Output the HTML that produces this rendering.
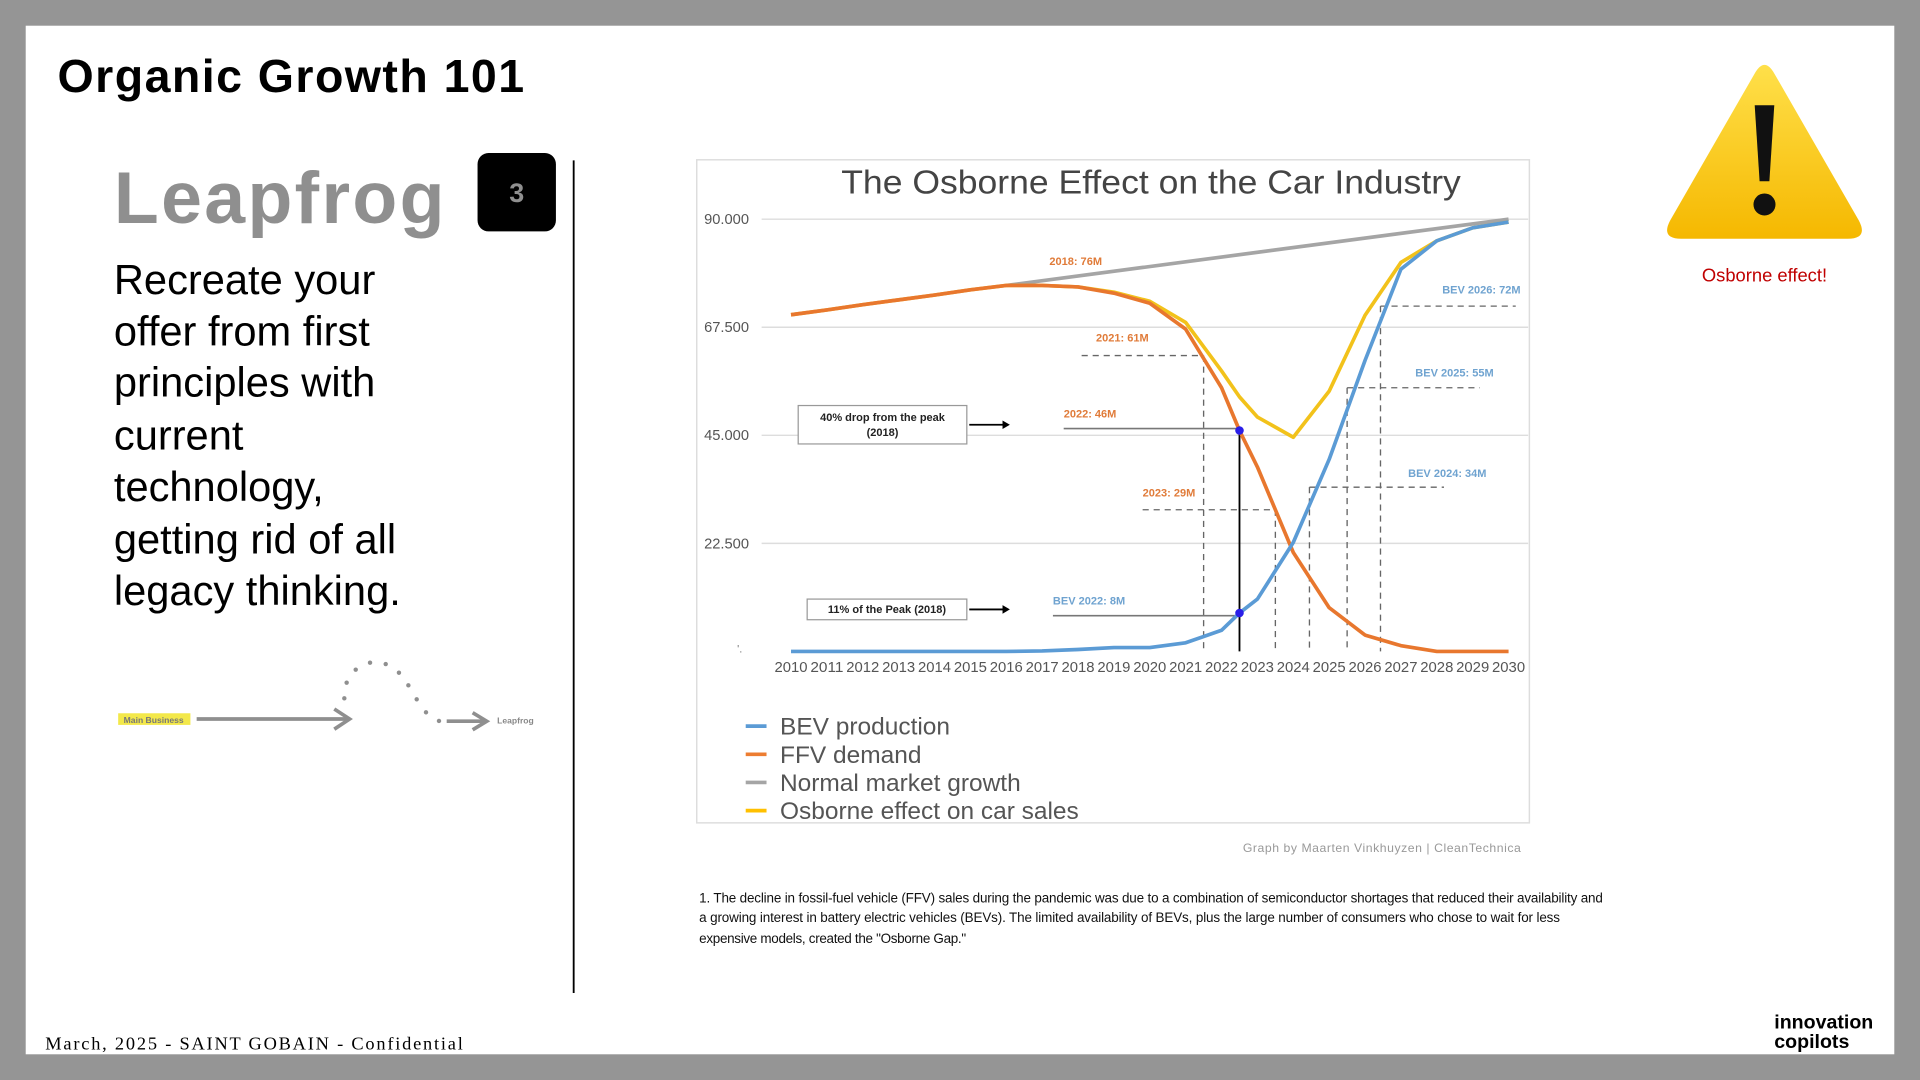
<!DOCTYPE html>
<html><head><meta charset="utf-8"><style>
html,body{margin:0;padding:0;width:1920px;height:1080px;overflow:hidden;background:#959595}
svg text{font-family:"Liberation Sans","DejaVu Sans",sans-serif}
</style></head><body>
<svg id="root" width="1920" height="1080" viewBox="0 0 1568 882" xmlns="http://www.w3.org/2000/svg">
<rect x="0" y="0" width="1568" height="882" fill="#959595"/>
<rect x="21" y="21" width="1526" height="840" fill="#fff"/>
<text x="47" y="75" font-size="38" font-weight="bold" fill="#000" textLength="381">Organic Growth 101</text>
<text x="93" y="182" font-size="60" font-weight="bold" fill="#8f8f8f" textLength="270">Leapfrog</text>
<rect x="390" y="125" width="64" height="64" rx="9" fill="#000"/>
<text x="422" y="165" font-size="22" font-weight="bold" fill="#8f8f8f" text-anchor="middle">3</text>
<line x1="468.5" y1="131" x2="468.5" y2="811" stroke="#000" stroke-width="1.5"/>
<g font-size="34" fill="#000">
<text x="93" y="240">Recreate your</text>
<text x="93" y="282">offer from first</text>
<text x="93" y="324">principles with</text>
<text x="93" y="367">current</text>
<text x="93" y="409">technology,</text>
<text x="93" y="452">getting rid of all</text>
<text x="93" y="494">legacy thinking.</text>
</g>
<g>
<rect x="96.5" y="582.5" width="59" height="9.5" fill="#f3e84a"/>
<text x="101" y="590.5" font-size="7" font-weight="bold" fill="#777">Main Business</text>
<g stroke="#8f8f8f" stroke-width="3" fill="none">
<line x1="160.6" y1="587.2" x2="285" y2="587.2"/>
<polyline points="273,579 285.5,587.2 273,595.5"/>
<line x1="364.8" y1="589" x2="397" y2="589"/>
<polyline points="386,582 397.5,589 386,596"/>
</g>
<g fill="#8f8f8f">
<circle cx="281.2" cy="570.3" r="1.8"/><circle cx="283.1" cy="557.5" r="1.8"/><circle cx="290.5" cy="546.9" r="1.8"/><circle cx="302.2" cy="541.2" r="1.8"/><circle cx="315" cy="542.3" r="1.8"/><circle cx="325.8" cy="549.4" r="1.8"/><circle cx="333.5" cy="559.7" r="1.8"/><circle cx="340.3" cy="571.1" r="1.8"/><circle cx="347.9" cy="581.7" r="1.8"/><circle cx="358.5" cy="588.8" r="1.8"/>
</g>
<text x="406" y="591" font-size="7" font-weight="bold" fill="#888">Leapfrog</text>
</g>

<g>
<rect x="569" y="130.5" width="680" height="541.5" fill="#fff" stroke="#ddd" stroke-width="1.2"/>
<text x="940" y="158" font-size="27" fill="#444" text-anchor="middle" textLength="506" lengthAdjust="spacingAndGlyphs">The Osborne Effect on the Car Industry</text>
<g id="grid"></g>
<g id="annot"></g>
<g id="series"></g>
<g id="xlabels" font-size="12" fill="#555"></g>
<text x="602" y="533" font-size="9" fill="#777">'.</text>
<g font-size="20" fill="#555">
<g><line x1="609" y1="593" x2="626" y2="593" stroke="#5b9bd5" stroke-width="3"/><text x="637" y="600">BEV production</text></g>
<g><line x1="609" y1="616" x2="626" y2="616" stroke="#ed7d31" stroke-width="3"/><text x="637" y="623">FFV demand</text></g>
<g><line x1="609" y1="639" x2="626" y2="639" stroke="#a5a5a5" stroke-width="3"/><text x="637" y="646">Normal market growth</text></g>
<g><line x1="609" y1="662" x2="626" y2="662" stroke="#ffc000" stroke-width="3"/><text x="637" y="669">Osborne effect on car sales</text></g>
</g>
</g>
<text x="1242" y="696" font-size="10" fill="#999" text-anchor="end" textLength="227">Graph by Maarten Vinkhuyzen | CleanTechnica</text>
<g font-size="11" fill="#111">
<text x="571" y="737" textLength="738">1. The decline in fossil-fuel vehicle (FFV) sales during the pandemic was due to a combination of semiconductor shortages that reduced their availability and</text>
<text x="571" y="753" textLength="703">a growing interest in battery electric vehicles (BEVs). The limited availability of BEVs, plus the large number of consumers who chose to wait for less</text>
<text x="571" y="770" textLength="218">expensive models, created the "Osborne Gap."</text>
</g>
<g>
<defs><linearGradient id="wg" x1="0" y1="0" x2="0" y2="1"><stop offset="0" stop-color="#ffe04a"/><stop offset="1" stop-color="#f5b800"/></linearGradient></defs>
<path d="M1433 60 Q1441 46 1449 60 L1518 180 Q1526 195 1509 195 L1373 195 Q1356 195 1364 180 Z" fill="url(#wg)"/>
<path d="M1433 86 L1449 86 L1445 148 L1437 148 Z" fill="#111"/>
<circle cx="1441" cy="167" r="9" fill="#111"/>
</g>
<text x="1441" y="230" font-size="15" fill="#c00000" text-anchor="middle">Osborne effect!</text>
<text x="37" y="857" font-size="15" fill="#000" textLength="341" style="font-family:'Liberation Serif',serif">March, 2025 - SAINT GOBAIN - Confidential</text>
<g font-size="16" font-weight="bold" fill="#000">
<text x="1449" y="840">innovation</text>
<text x="1449" y="856">copilots</text>
</g>
</svg>
<script>
const years = [2010,2011,2012,2013,2014,2015,2016,2017,2018,2019,2020,2021,2022,2022.5,2023,2024,2025,2026,2027,2028,2029,2030];
const bevValues = [0,0,0,0,0,0,0,100,400,800,800,1800,4400,8000,10900,22700,40000,60600,79600,85500,88200,89400];
const ffvValues = [70100,71100,72200,73200,74200,75300,76200,76200,75900,74600,72500,67100,54900,46000,38400,20600,9100,3400,1200,0,0,0];
const osborneValues = [70100,71100,72200,73200,74200,75300,76200,76200,75900,74800,72900,68500,58400,53000,48800,44600,54200,70000,81000,85500,88200,89400];
const normalYears = [2016,2030];
const normalValues = [76200,90000];
const yTicks = [0,22500,45000,67500,90000];
const yTickLabels = ["","22.500","45.000","67.500","90.000"];
const xTickLabels = ["2010","2011","2012","2013","2014","2015","2016","2017","2018","2019","2020","2021","2022","2023","2024","2025","2026","2027","2028","2029","2030"];
const NS='http://www.w3.org/2000/svg';
function x(yr){return 646+(yr-2010)*29.3;}
function y(v){return 532-v/90000*353;}
function mk(tag,attrs,parent){const e=document.createElementNS(NS,tag);for(const k in attrs)e.setAttribute(k,attrs[k]);parent.appendChild(e);return e;}
const grid=document.getElementById('grid');
yTicks.forEach((t,i)=>{
  if(i>0){const l=mk('line',{x1:622,x2:1248,y1:y(t),y2:y(t),stroke:'#ddd','stroke-width':1.2},grid);
  
  }
  const tx=mk('text',{x:575,y:y(t)+4,'font-size':12,fill:'#555'},grid);tx.textContent=yTickLabels[i];
  
  
});
const xl=document.getElementById('xlabels');
xTickLabels.forEach((lab,i)=>{
  const t=mk('text',{x:x(2010+i),y:549,'text-anchor':'middle',textLength:27,lengthAdjust:'spacingAndGlyphs'},xl);t.textContent=lab;
  
  
});
const an=document.getElementById('annot');
function dash(x1,y1,x2,y2){const l=mk('line',{x1,y1,x2,y2,stroke:'#666','stroke-width':1.1,'stroke-dasharray':'5,4'},an);
  
  }
function lab(tx,ty,s,c){const t=mk('text',{x:tx,y:ty,'font-size':9,'font-weight':'bold',fill:c},an);t.textContent=s;
  
  }
const OR='#e07b39',BL='#6fa3d0';
lab(x(2017.2),y(80500),'2018: 76M',OR);
dash(x(2018.1),y(61600),x(2021.5),y(61600));dash(x(2021.5),y(61600),x(2021.5),532);lab(x(2018.5),y(64500),'2021: 61M',OR);
dash(x(2019.8),y(29500),x(2023.5),y(29500));dash(x(2023.5),y(29500),x(2023.5),532);lab(x(2019.8),y(32300),'2023: 29M',OR);
dash(x(2024.45),y(34200),x(2028.2),y(34200));dash(x(2024.45),y(34200),x(2024.45),532);lab(x(2027.2),y(36300),'BEV 2024: 34M',BL);
dash(x(2025.5),y(54900),x(2029.2),y(54900));dash(x(2025.5),y(54900),x(2025.5),532);lab(x(2027.4),y(57200),'BEV 2025: 55M',BL);
dash(x(2026.43),y(71900),x(2030.2),y(71900));dash(x(2026.43),y(71900),x(2026.43),532);lab(x(2028.15),y(74500),'BEV 2026: 72M',BL);
function solid(x1,y1,x2,y2,c,w){const l=mk('line',{x1,y1,x2,y2,stroke:c,'stroke-width':w},an);
  
  }
solid(x(2017.6),y(46400),x(2022.5),y(46400),'#777',1.3);lab(x(2017.6),y(48700),'2022: 46M',OR);
solid(x(2017.3),y(7450),x(2022.5),y(7450),'#777',1.3);lab(x(2017.3),y(9800),'BEV 2022: 8M',BL);
solid(x(2022.5),y(46400),x(2022.5),532,'#000',1.5);
function box(x1,x2,v1,v2,lines,arrowTo){
  const g=mk('g',{},an);
  
  
  mk('rect',{x:x(x1),y:y(v1),width:x(x2)-x(x1),height:y(v2)-y(v1),fill:'#fff',stroke:'#999','stroke-width':1},g);
  const cy=(y(v1)+y(v2))/2;
  lines.forEach((s,i)=>{const t=mk('text',{x:(x(x1)+x(x2))/2,y:cy+3+(i-(lines.length-1)/2)*12,'font-size':9,'font-weight':'bold',fill:'#222','text-anchor':'middle'},g);t.textContent=s;});
  mk('line',{x1:x(x2)+2,y1:cy,x2:x(arrowTo)-4,y2:cy,stroke:'#000','stroke-width':1.5},g);
  mk('polygon',{points:`${x(arrowTo)},${cy} ${x(arrowTo)-6},${cy-3.5} ${x(arrowTo)-6},${cy+3.5}`,fill:'#000'},g);
}
box(2010.2,2014.9,51200,43200,['40% drop from the peak','(2018)'],2016.1);
box(2010.45,2014.9,10900,6600,['11% of the Peak (2018)'],2016.1);
const ser=document.getElementById('series');
function line(xs,vs,c,w,name){const p=mk('polyline',{points:xs.map((yr,i)=>x(yr)+','+y(vs[i])).join(' '),fill:'none',stroke:c,'stroke-width':w,'stroke-linejoin':'round'},ser);
  
  }
line(normalYears,normalValues,'#a5a5a5',3,'normal-growth-line');
line(years,osborneValues,'#f2c21b',3,'osborne-line');
line(years,ffvValues,'#e8772e',3,'ffv-line');
line(years,bevValues,'#5b9bd5',3,'bev-line');
[[2022.5,ffvValues[13]],[2022.5,bevValues[13]]].forEach(d=>{const c=mk('circle',{cx:x(d[0]),cy:y(d[1]),r:3.5,fill:'#2a1ee8'},ser);
  
  });
</script>
</body></html>
